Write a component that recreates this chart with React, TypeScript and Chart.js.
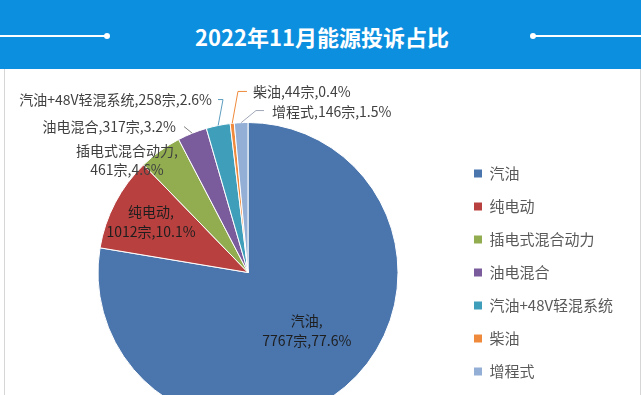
import React, { useEffect, useRef } from 'react';
import { Chart, registerables } from 'chart.js';

Chart.register(...registerables);

// ---- data ----
const titleText = '2022年11月能源投诉占比';
const categories = ['汽油', '纯电动', '插电式混合动力', '油电混合', '汽油+48V轻混系统', '柴油', '增程式'];
const complaintCounts = [7767, 1012, 461, 317, 258, 44, 146];
const countUnit = '宗';

// ---- styles ----
const sliceColors = ['#4a75ad', '#b8413f', '#91ad50', '#7a5b9b', '#3f9fba', '#ef8a3c', '#94afd6'];
const FONT = '"Noto Sans CJK SC", "Microsoft YaHei", sans-serif';
const LEGEND_FONT_SIZE = 15;
const LABEL_FONT_SIZE = 14;

type Placement =
  | { kind: 'inside'; f: number; shift: number }
  | {
      kind: 'outside';
      dx: number;
      dy: number;
      align: CanvasTextAlign;
      twoLines: boolean;
      leader?: number[][];
      leaderColor?: string;
    };

// label placement relative to each arc (radius units / px offsets)
const labelPlacement: Placement[] = [
  { kind: 'inside', f: 0.55, shift: -0.09 },
  { kind: 'inside', f: 0.73, shift: 0 },
  { kind: 'outside', dx: -0.807, dy: -0.75, align: 'center', twoLines: true },
  { kind: 'outside', dx: -0.48, dy: -0.973, align: 'right', twoLines: false, leader: [[8, 0]], leaderColor: '#808080' },
  { kind: 'outside', dx: -0.24, dy: -1.153, align: 'right', twoLines: false, leader: [[6, 0], [11, 0]], leaderColor: '#5e9dc0' },
  { kind: 'outside', dx: 0.033, dy: -1.207, align: 'left', twoLines: false, leader: [[-6, 0], [-15, 0]], leaderColor: '#ef8a3c' },
  { kind: 'outside', dx: 0.16, dy: -1.073, align: 'left', twoLines: false, leader: [[-8, -1], [-16, -1]], leaderColor: '#a0a8b8' },
];

const sliceLabels = {
  id: 'sliceLabels',
  afterDatasetsDraw(chart: any) {
    const ctx: CanvasRenderingContext2D = chart.ctx;
    const meta = chart.getDatasetMeta(0);
    const total = complaintCounts.reduce((a, b) => a + b, 0);
    ctx.save();
    ctx.font = `${LABEL_FONT_SIZE}px ${FONT}`;
    ctx.textBaseline = 'middle';
    meta.data.forEach((arc: any, i: number) => {
      const { x, y, startAngle, endAngle, outerRadius } = arc.getProps(
        ['x', 'y', 'startAngle', 'endAngle', 'outerRadius'],
        true
      );
      const mid = (startAngle + endAngle) / 2;
      const pct = ((complaintCounts[i] / total) * 100).toFixed(1) + '%';
      const line1 = categories[i] + ',';
      const line2 = `${complaintCounts[i]}${countUnit},${pct}`;
      const p = labelPlacement[i];
      if (p.kind === 'inside') {
        const a = mid + p.shift;
        const cx = x + Math.cos(a) * outerRadius * p.f;
        const cy = y + Math.sin(a) * outerRadius * p.f;
        ctx.fillStyle = '#1e1e1e';
        ctx.textAlign = 'center';
        ctx.fillText(line1, cx, cy - 10);
        ctx.fillText(line2, cx, cy + 10);
        return;
      }
      const ax = x + p.dx * outerRadius;
      const ay = y + p.dy * outerRadius;
      ctx.fillStyle = '#404040';
      ctx.textAlign = p.align;
      if (p.twoLines) {
        ctx.fillText(line1, ax, ay - 9.5);
        ctx.fillText(line2, ax, ay + 9.5);
      } else {
        ctx.fillText(`${categories[i]},${line2}`, ax, ay);
      }
      if (p.leader) {
        const ex = x + Math.cos(mid) * outerRadius;
        const ey = y + Math.sin(mid) * outerRadius;
        ctx.beginPath();
        ctx.strokeStyle = p.leaderColor || '#808080';
        ctx.lineWidth = 1;
        p.leader.forEach((pt, k) => {
          if (k === 0) ctx.moveTo(ax + pt[0], ay + pt[1]);
          else ctx.lineTo(ax + pt[0], ay + pt[1]);
        });
        ctx.lineTo(ex, ey);
        ctx.stroke();
      }
    });
    ctx.restore();
  },
};

const CANVAS_W = 641;
const CANVAS_H = 404;
const PIE_LEFT_PAD = 40;
const CHART_RIGHT = 456;

export default function App() {
  const canvasRef = useRef<HTMLCanvasElement | null>(null);

  useEffect(() => {
    const canvas = canvasRef.current;
    if (!canvas) return;
    // compute right padding so that legend starts at CHART_RIGHT
    const mctx = document.createElement('canvas').getContext('2d')!;
    mctx.font = `${LEGEND_FONT_SIZE}px ${FONT}`;
    const maxW = Math.max(...categories.map((c) => mctx.measureText(c).width));
    const boxW = 8;
    const legendPad = 18;
    const legendW = legendPad + boxW + LEGEND_FONT_SIZE / 2 + maxW + 10;
    const padRight = Math.max(0, CANVAS_W - CHART_RIGHT - legendW);

    const chart = new Chart(canvas, {
      type: 'pie',
      data: {
        labels: categories,
        datasets: [
          {
            data: complaintCounts,
            backgroundColor: sliceColors,
            borderColor: '#ffffff',
            borderWidth: 1,
          },
        ],
      },
      options: {
        responsive: false,
        animation: false,
        events: [],
        layout: { padding: { left: PIE_LEFT_PAD, right: padRight, top: 52, bottom: 51 } },
        plugins: {
          tooltip: { enabled: false },
          title: { display: false },
          legend: {
            position: 'right',
            labels: {
              boxWidth: boxW,
              boxHeight: 8,
              padding: legendPad,
              color: '#595959',
              font: { family: FONT, size: LEGEND_FONT_SIZE },
              generateLabels: (ch: any) => {
                const base = (Chart as any).overrides.pie.plugins.legend.labels.generateLabels(ch);
                return base.map((it: any) => ({ ...it, lineWidth: 0, strokeStyle: 'transparent' }));
              },
            },
          },
        },
      },
      plugins: [sliceLabels],
    });
    return () => chart.destroy();
  }, []);

  return (
    <div style={{ position: 'relative', width: 641, height: 395, overflow: 'hidden', background: '#ffffff' }}>
      <style>{`body{margin:0;}`}</style>
      <div
        style={{
          position: 'absolute',
          left: 0,
          top: 0,
          width: 641,
          height: 69,
          background: '#0c8fdf',
        }}
      >
        <div style={{ position: 'absolute', left: 0, top: 35, width: 107, height: 1.5, background: '#ffffff' }} />
        <div
          style={{
            position: 'absolute',
            left: 104,
            top: 33,
            width: 6,
            height: 6,
            borderRadius: '50%',
            background: '#ffffff',
          }}
        />
        <div style={{ position: 'absolute', left: 533, top: 35, width: 108, height: 1.5, background: '#ffffff' }} />
        <div
          style={{
            position: 'absolute',
            left: 530,
            top: 33,
            width: 6,
            height: 6,
            borderRadius: '50%',
            background: '#ffffff',
          }}
        />
        <div
          style={{
            position: 'absolute',
            left: 322,
            top: 36,
            transform: 'translate(-50%, -50%)',
            whiteSpace: 'nowrap',
            color: '#ffffff',
            fontFamily: FONT,
            fontWeight: 700,
            fontSize: 22,
            lineHeight: '30px',
          }}
        >
          {titleText}
        </div>
      </div>
      <div
        style={{
          position: 'absolute',
          left: 4,
          top: 69,
          width: 637,
          height: 340,
          boxSizing: 'border-box',
          borderLeft: '1px solid #d6d6d6',
          borderRight: '1px solid #d6d6d6',
          background: '#ffffff',
        }}
      />
      <canvas
        ref={canvasRef}
        width={CANVAS_W}
        height={CANVAS_H}
        style={{ position: 'absolute', left: 0, top: 70, width: CANVAS_W, height: CANVAS_H }}
      />
    </div>
  );
}
